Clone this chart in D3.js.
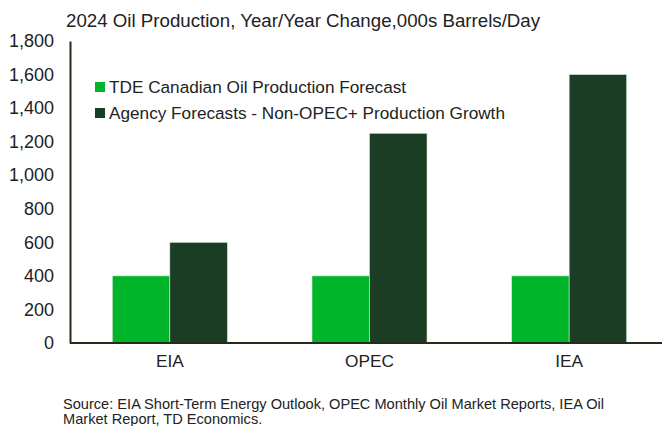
<!DOCTYPE html>
<html lang="en">
<head>
    <meta charset="UTF-8">
    <title>2024 Oil Production</title>
    <script src="https://d3js.org/d3.v7.min.js"></script>
</head>
<body>
<div id='chart'>
    <svg></svg>
</div>
</body>

<style>
    body {
        margin: 0;
        background: #fff;
    }

    text {
        font-family: "Liberation Sans", Arial, sans-serif;
        fill: #222;
    }
</style>

<script>
    // values in 000s barrels/day
    const categories = ['EIA', 'OPEC', 'IEA'];
    const seriesNames = ['TDE Canadian Oil Production Forecast', 'Agency Forecasts - Non-OPEC+ Production Growth'];
    const tdeForecast = [400, 400, 400];
    const agencyForecast = [600, 1250, 1600];
    const yTicks = [0, 200, 400, 600, 800, 1000, 1200, 1400, 1600, 1800];
    const colors = ['#00b52a', '#1a3d24'];

    const width = 662;
    const height = 426;
    const margin = {top: 41, right: 0, bottom: 83, left: 70};

    const svg = d3.select('svg')
        .attr('width', width)
        .attr('height', height);

    const y = d3.scaleLinear()
        .domain([0, 1800])
        .range([height - margin.bottom, margin.top]);

    const x = d3.scaleBand()
        .domain(categories)
        .range([margin.left, 669])
        .paddingInner(0.424)
        .paddingOuter(0.212);

    const xSub = d3.scaleBand()
        .domain(d3.range(seriesNames.length))
        .range([0, x.bandwidth()]);

    const rows = categories.map((c, i) => ({cat: c, values: [tdeForecast[i], agencyForecast[i]]}));

    // bars
    const groups = svg.append('g')
        .selectAll('g')
        .data(rows)
        .join('g')
        .attr('transform', d => `translate(${x(d.cat)},0)`);

    groups.selectAll('rect')
        .data(d => d.values.map((v, k) => ({v, k})))
        .join('rect')
        .attr('x', d => xSub(d.k))
        .attr('width', xSub.bandwidth())
        .attr('y', d => y(d.v))
        .attr('height', d => y(0) - y(d.v))
        .attr('fill', d => colors[d.k])
        .attr('stroke', '#d8e8d8')
        .attr('stroke-width', 0.6);

    // y axis
    const yAxis = svg.append('g')
        .attr('transform', `translate(${margin.left},0)`)
        .call(d3.axisLeft(y).tickValues(yTicks).tickFormat(d3.format(',')).tickSize(0).tickPadding(16));
    yAxis.select('.domain').attr('stroke', '#2a2a1a').attr('stroke-width', 2);
    yAxis.selectAll('text').style('font-size', '18px').attr('fill', '#222');

    // x axis
    const xAxis = svg.append('g')
        .attr('transform', `translate(0,${y(0)})`)
        .call(d3.axisBottom(x).tickSize(0).tickPadding(12));
    xAxis.select('.domain').attr('d', `M${margin.left},0H${width}`)
        .attr('stroke', '#2a2a1a').attr('stroke-width', 2);
    xAxis.selectAll('text').style('font-size', '17.3px').attr('fill', '#222');

    // title
    svg.append('text')
        .attr('x', 66)
        .attr('y', 27)
        .style('font-size', '18.7px')
        .text('2024 Oil Production, Year/Year Change,000s Barrels/Day');

    // legend
    const legend = svg.append('g')
        .selectAll('g')
        .data(seriesNames)
        .join('g')
        .attr('transform', (d, i) => `translate(95,${87 + i * 26})`);

    legend.append('rect')
        .attr('x', 0)
        .attr('y', -5)
        .attr('width', 10)
        .attr('height', 10)
        .attr('fill', (d, i) => colors[i]);

    legend.append('text')
        .attr('x', 14)
        .attr('dy', '0.35em')
        .style('font-size', '17.2px')
        .text(d => d);

    // source note
    const note = svg.append('text')
        .style('font-size', '14.6px')
        .attr('fill', '#333');
    note.append('tspan').attr('x', 63).attr('y', 409)
        .text('Source: EIA Short-Term Energy Outlook, OPEC Monthly Oil Market Reports, IEA Oil');
    note.append('tspan').attr('x', 63).attr('y', 424)
        .text('Market Report, TD Economics.');
</script>
</html>
